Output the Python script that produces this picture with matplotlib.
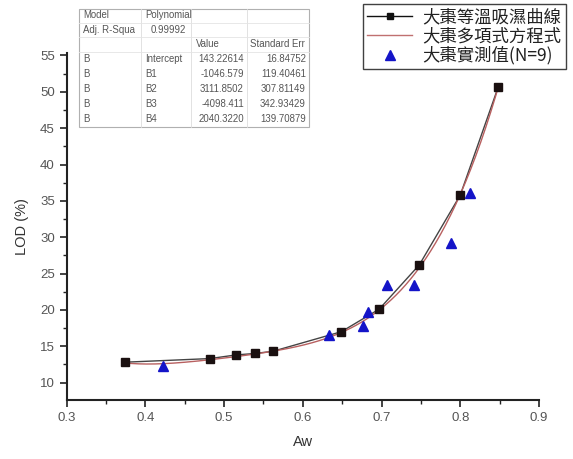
import numpy as np
import matplotlib
matplotlib.use("Agg")
import matplotlib.pyplot as plt
from matplotlib.lines import Line2D
from matplotlib.patches import Rectangle

# ---- data ----
aw_iso = [0.374, 0.482, 0.515, 0.539, 0.562, 0.649, 0.697, 0.748, 0.800, 0.848]
lod_iso = [12.8, 13.3, 13.8, 14.0, 14.3, 17.0, 20.1, 26.2, 35.8, 50.6]

aw_obs = [0.422, 0.633, 0.677, 0.683, 0.707, 0.741, 0.788, 0.812]
lod_obs = [12.3, 16.5, 17.8, 19.7, 23.4, 23.4, 29.2, 36.1]

# polynomial fit coefficients (Intercept, B1..B4) as shown in the table
coef_names = ["Intercept", "B1", "B2", "B3", "B4"]
coef_values = [143.22614, -1046.579, 3111.8502, -4096.411, 2040.3220]
coef_text = ["143.22614", "-1046.579", "3111.8502", "-4098.411", "2040.3220"]
coef_err = ["16.84752", "119.40461", "307.81149", "342.93429", "139.70879"]
adj_r2 = "0.99992"

legend_labels = ["大棗等溫吸濕曲線", "大棗多項式方程式", "大棗實測值(N=9)"]

x_ticks = [0.3, 0.4, 0.5, 0.6, 0.7, 0.8, 0.9]
y_ticks = [10, 15, 20, 25, 30, 35, 40, 45, 50, 55]

W, H = 573, 459
fig = plt.figure(figsize=(W / 100, H / 100), dpi=100)
fig.patch.set_facecolor("white")

def fx(px):
    return px / W

def fy(py):
    return 1 - py / H

ax = fig.add_axes([fx(66.7), fy(400), fx(539) - fx(66.7), fy(53.3) - fy(400)])

# fit curve
xf = np.linspace(min(aw_iso), max(aw_iso), 300)
yf = np.polyval(coef_values[::-1], xf)

ax.plot(aw_iso, lod_iso, color="#444444", lw=1.0, zorder=2)
ax.plot(xf, yf, color="#b86060", lw=1.0, zorder=3)
ax.plot(aw_iso, lod_iso, ls="none", marker="s", ms=6, mfc="#1a1010",
        mec="#1a1010", zorder=4)
ax.plot(aw_obs, lod_obs, ls="none", marker="^", ms=7, mfc="#1414c8",
        mec="#1414c8", zorder=5)

ax.set_xlim(0.3, 0.9)
ax.set_ylim(7.6, 55.3)
ax.set_xticks(x_ticks)
ax.set_xticklabels([f"{v:g}" for v in x_ticks])
ax.set_yticks(y_ticks)
ax.set_xticks(np.arange(0.35, 0.9, 0.1), minor=True)
ax.set_yticks(np.arange(12.5, 55, 5), minor=True)

for s in ["top", "right"]:
    ax.spines[s].set_visible(False)
for s in ["left", "bottom"]:
    ax.spines[s].set_linewidth(1.5)
    ax.spines[s].set_color("#222222")

ax.tick_params(which="major", direction="out", length=5, width=1.2,
               colors="#222222", labelcolor="#555555", labelsize=9.5)
ax.tick_params(which="minor", direction="out", length=3, width=1.0,
               colors="#222222")
for lab in ax.get_xticklabels() + ax.get_yticklabels():
    lab.set_fontfamily("Liberation Sans")

ax.set_xlabel("Aw", fontsize=10.5, family="Liberation Sans", color="#333333",
              labelpad=8)
ax.set_ylabel("LOD (%)", fontsize=10.5, family="Liberation Sans",
              color="#333333", labelpad=8)

# ---- parameter table ----
tl, tr, tt, tb = 79, 309, 9, 127
fig.patches.append(Rectangle((fx(tl), fy(tb)), fx(tr) - fx(tl), fy(tt) - fy(tb),
                             transform=fig.transFigure, fill=True,
                             facecolor="white", edgecolor="#b0b0b0", lw=0.8,
                             zorder=10))
for xv in [141, 191, 247]:
    fig.add_artist(Line2D([fx(xv), fx(xv)], [fy(tt), fy(tb)],
                          transform=fig.transFigure, color="#dddddd", lw=0.6,
                          zorder=11))
rows_y = [15, 30, 44, 59, 74, 89, 104, 119]
for yv in [22.5, 37, 51.5]:
    fig.add_artist(Line2D([fx(tl), fx(tr)], [fy(yv), fy(yv)],
                          transform=fig.transFigure, color="#e4e4e4", lw=0.6,
                          zorder=11))

tkw = dict(fontsize=6.9, family="Liberation Sans", color="#555555",
           va="center", zorder=12)
fig.text(fx(83), fy(rows_y[0]), "Model", ha="left", **tkw)
fig.text(fx(145), fy(rows_y[0]), "Polynomial", ha="left", **tkw)
fig.text(fx(83), fy(rows_y[1]), "Adj. R-Squa", ha="left", **tkw)
fig.text(fx(151), fy(rows_y[1]), adj_r2, ha="left", **tkw)
fig.text(fx(196), fy(rows_y[2]), "Value", ha="left", **tkw)
fig.text(fx(250), fy(rows_y[2]), "Standard Err", ha="left", **tkw)
for i, (n, v, e) in enumerate(zip(coef_names, coef_text, coef_err)):
    y = fy(rows_y[3 + i])
    fig.text(fx(83), y, "B", ha="left", **tkw)
    fig.text(fx(145), y, n, ha="left", **tkw)
    fig.text(fx(244), y, v, ha="right", **tkw)
    fig.text(fx(306), y, e, ha="right", **tkw)

# ---- legend ----
handles = [
    Line2D([], [], color="#111111", lw=1.0, marker="s", ms=5,
           mfc="#111111", mec="#111111"),
    Line2D([], [], color="#c07070", lw=1.0),
    Line2D([], [], ls="none", marker="^", ms=7, mfc="#1414c8", mec="#1414c8"),
]
leg = fig.legend(handles, legend_labels, loc="upper right",
                 bbox_to_anchor=(fx(566), fy(4)),
                 prop={"family": ["Noto Sans CJK TC", "DejaVu Sans"], "size": 12.5},
                 frameon=True, fancybox=False, handlelength=2.6,
                 handletextpad=0.6, borderpad=0.25, labelspacing=0.05,
                 borderaxespad=0)
leg.get_frame().set_edgecolor("#111111")
leg.get_frame().set_linewidth(1.0)
for t in leg.get_texts():
    t.set_color("#222222")

fig.savefig("out.png", dpi=100, facecolor="white")
